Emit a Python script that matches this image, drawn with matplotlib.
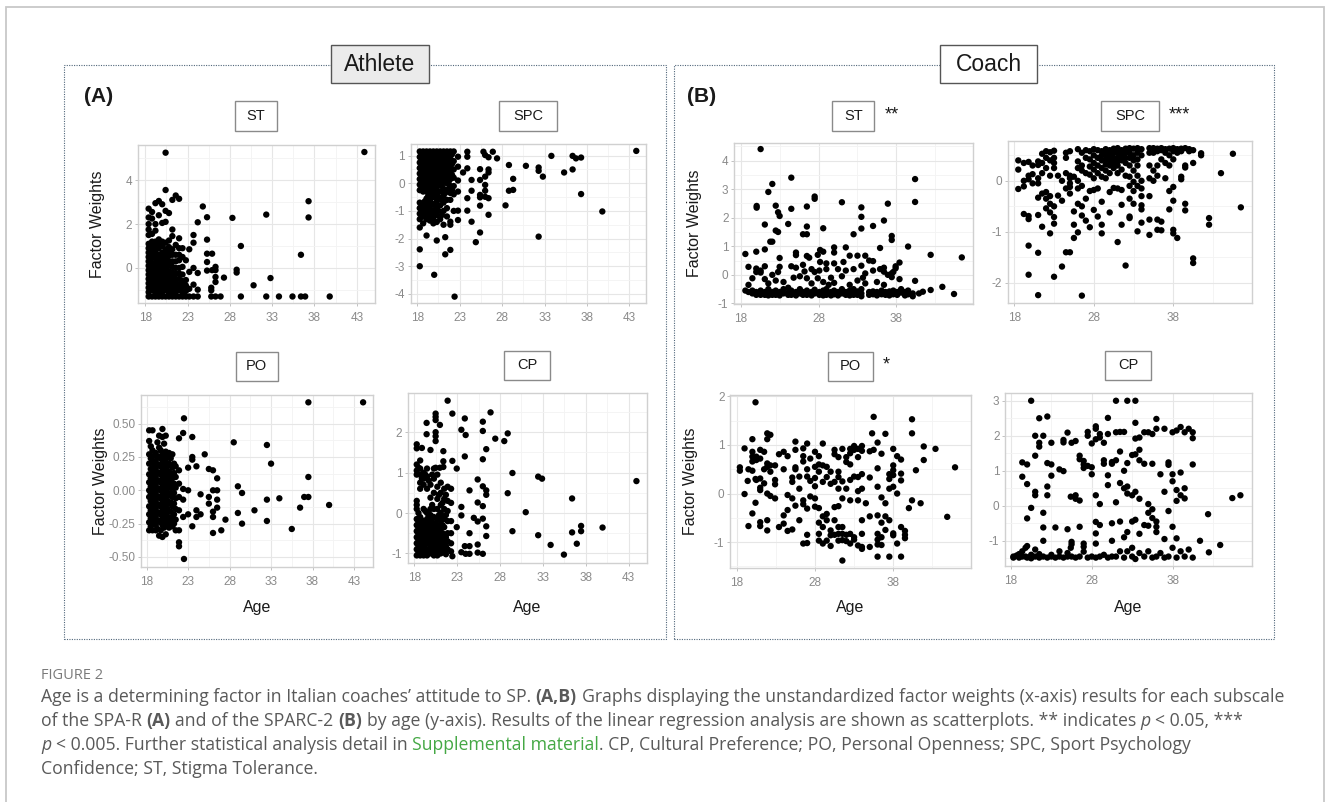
import numpy as np
import matplotlib.pyplot as plt
from matplotlib.patches import Rectangle

plt.rcParams['font.family'] = ['Liberation Sans', 'DejaVu Sans']
plt.rcParams['axes.unicode_minus'] = False

# ---- data: (age, [factor weights]) ----
ath_st = [
    (18.4, [-1.3, -1.1, -0.9, -0.7, -0.5, -0.3, -0.1, 0.1, 0.3, 0.5, 0.7, 0.9, 1.1, 1.5, 1.75, 2.0, 2.3, 2.7]),
    (18.8, [-1.3, -1.0, -0.8, -0.6, -0.4, -0.2, 0.0, 0.2, 0.45, 0.6, 0.85, 1.05, 1.2, 1.55, 2.25, 2.55]),
    (19.2, [-1.3, -1.15, -0.95, -0.75, -0.55, -0.35, -0.15, 0.05, 0.25, 0.5, 0.75, 1.0, 1.2, 1.7, 2.0, 2.95]),
    (19.6, [-1.3, -1.05, -0.85, -0.65, -0.45, -0.25, -0.05, 0.15, 0.35, 0.6, 0.9, 1.1, 1.3, 2.4, 3.05]),
    (20.0, [-1.3, -1.1, -0.9, -0.7, -0.5, -0.3, -0.1, 0.1, 0.3, 0.5, 0.7, 1.0, 1.2, 2.05, 2.9]),
    (20.4, [-1.3, -1.0, -0.8, -0.6, -0.4, -0.2, 0.0, 0.2, 0.4, 0.65, 0.85, 1.15, 2.1, 2.6, 3.55, 5.25]),
    (20.8, [-1.3, -1.15, -0.95, -0.75, -0.55, -0.35, -0.15, 0.1, 0.3, 0.55, 0.75, 0.95, 1.25, 2.5]),
    (21.2, [-1.3, -1.05, -0.85, -0.6, -0.4, -0.2, 0.05, 0.3, 0.6, 0.85, 1.45, 1.75, 3.1]),
    (21.6, [-1.3, -1.1, -0.9, -0.7, -0.5, -0.25, 0.0, 0.3, 0.6, 1.05, 3.3]),
    (22.0, [-1.3, -1.0, -0.75, -0.5, -0.25, 0.0, 0.35, 0.6, 0.9, 1.35, 3.15]),
    (22.4, [-1.3, -1.1, -0.85, -0.6, -0.3, 0.05, 0.5, 0.9]),
    (22.8, [-1.3, -1.05, -0.8, -0.55, 0.35]),
    (23.2, [-1.3, -0.95, -0.18, 0.85]),
    (23.7, [-1.3, -0.76, 0.0, 1.15, 1.5]),
    (24.2, [-1.3, -0.99, -0.23, 2.08]),
    (24.8, [2.8]),
    (25.3, [2.31, 1.29, 0.65, 0.27, -0.12]),
    (25.8, [-1.3, -1.02, -0.9]),
    (25.9, [0.65, -0.1]),
    (26.3, [-1.3, 0.05, -0.1, -0.41, -0.64]),
    (26.9, [-1.3]),
    (27.3, [-0.44]),
    (28.3, [2.28]),
    (28.8, [-0.08, -0.21]),
    (29.3, [1.0, -1.3]),
    (30.8, [-0.79]),
    (32.3, [2.43, -1.3]),
    (32.8, [-0.46]),
    (33.8, [-1.3]),
    (35.4, [-1.3]),
    (36.4, [0.6, -1.3]),
    (36.9, [-1.3]),
    (37.3, [3.04, 2.30]),
    (39.8, [-1.3]),
    (43.9, [5.28]),
]

ath_spc = [
    (18.3, [1.15, 0.95, 0.75, 0.55, 0.35, 0.15, -0.05, -0.25, -0.7, -0.9, -1.1, -1.3, -1.6, -2.39, -3.0]),
    (18.5, [1.05, 0.85, 0.65, 0.45, 0.25, 0.05, -0.15, -0.8, -1.0, -1.2]),
    (18.7, [1.15, 0.9, 0.7, 0.5, 0.3, 0.1, -0.1, -0.3, -0.75, -0.95, -1.2, -1.45]),
    (18.9, [1.05, 0.8, 0.6, 0.4, 0.2, 0.0, -0.2, -0.65, -0.85, -1.1]),
    (19.1, [1.15, 0.95, 0.75, 0.55, 0.35, 0.15, -0.05, -0.3, -0.55, -0.8, -1.05, -1.3, -1.89]),
    (19.3, [1.05, 0.85, 0.65, 0.45, 0.25, 0.05, -0.2, -0.45, -0.7, -0.95, -1.2]),
    (19.5, [1.15, 0.9, 0.7, 0.5, 0.3, 0.1, -0.1, -0.35, -0.6, -0.85, -1.1, -1.35]),
    (19.7, [1.05, 0.8, 0.6, 0.4, 0.2, 0.0, -0.25, -0.5, -0.75, -1.0]),
    (19.9, [1.15, 0.95, 0.75, 0.55, 0.35, 0.15, -0.05, -0.25, -0.5, -0.75, -1.0, -1.25, -1.45]),
    (20.0, [-3.31]),
    (20.1, [1.05, 0.85, 0.6, 0.4, 0.2, 0.0, -0.3, -0.8, -1.1]),
    (20.3, [1.15, 0.9, 0.7, 0.5, 0.3, 0.1, -0.15, -0.4, -0.65, -0.9, -1.15, -1.4, -2.07]),
    (20.5, [1.05, 0.8, 0.6, 0.4, 0.2, -0.05, -0.5, -1.0]),
    (20.7, [1.15, 0.95, 0.75, 0.55, 0.35, 0.15, -0.05, -0.3, -0.55, -0.8, -1.3]),
    (20.9, [1.05, 0.85, 0.6, 0.4, 0.2, -0.1, -0.6, -1.15]),
    (21.1, [1.15, 0.9, 0.7, 0.5, 0.3, 0.05, -0.2, -0.45, -0.7, -1.0, -1.5]),
    (21.3, [1.05, 0.8, 0.6, 0.4, 0.15, -0.35, -1.95, -2.57]),
    (21.5, [1.15, 0.95, 0.7, 0.45, 0.25, 0.0, -0.25, -0.6, -0.9, -1.2]),
    (21.7, [1.05, 0.8, 0.55, 0.3, 0.05, -0.2]),
    (21.9, [1.15, 0.9, 0.65, 0.4, 0.15, -0.1, -0.35, -0.6, -1.39, -1.5, -2.41]),
    (22.1, [1.05, 0.7, 0.3, -0.25]),
    (22.3, [1.15, 0.8, 0.5, 0.2, -0.1, -0.4, -1.0]),
    (22.4, [-4.1]),
    (22.8, [0.96, 0.6, 0.1, -0.3, -0.99, -1.33]),
    (23.4, [0.39]),
    (23.9, [1.14, 0.96, 0.54, -0.54, -0.99]),
    (24.4, [0.12, -0.27, -1.39]),
    (24.9, [-2.13]),
    (25.4, [0.51, 0.12, -0.42, -0.51, -0.81, -1.78]),
    (25.8, [1.14]),
    (26.0, [1.02, 0.24, -0.06, -0.27, -0.49]),
    (26.4, [0.94, 0.5, 0.39, -0.54, -1.14]),
    (26.9, [1.14]),
    (27.4, [0.9]),
    (28.4, [-0.8]),
    (28.8, [0.66, -0.27]),
    (29.3, [0.16, -0.24]),
    (30.8, [0.63]),
    (32.3, [0.57, 0.45, -1.93]),
    (32.8, [0.24]),
    (33.8, [0.99]),
    (35.3, [0.39]),
    (36.3, [0.99, 0.5]),
    (36.7, [0.9]),
    (37.3, [0.93, -0.39]),
    (39.8, [-1.02]),
    (43.8, [1.17]),
]

ath_po = [
    (18.3, [0.45, 0.37, 0.27, 0.2, 0.12, 0.06, 0.0, -0.05, -0.12, -0.18, -0.24, -0.3]),
    (18.5, [0.33, 0.24, 0.16, 0.09, 0.03, -0.02, -0.08, -0.15, -0.21, -0.27]),
    (18.7, [0.45, 0.3, 0.22, 0.15, 0.08, 0.02, -0.04, -0.1, -0.16, -0.22, -0.3]),
    (18.9, [0.26, 0.19, 0.12, 0.05, -0.01, -0.07, -0.13, -0.19, -0.25]),
    (19.1, [0.28, 0.22, 0.16, 0.1, 0.04, -0.02, -0.08, -0.14, -0.2, -0.26, -0.3]),
    (19.3, [0.36, 0.25, 0.19, 0.13, 0.07, 0.01, -0.05, -0.11, -0.17, -0.23, -0.29]),
    (19.5, [0.41, 0.32, 0.25, 0.19, 0.13, 0.07, 0.01, -0.05, -0.11, -0.17, -0.23, -0.34]),
    (19.7, [0.3, 0.24, 0.18, 0.12, 0.06, 0.0, -0.06, -0.12, -0.18, -0.24, -0.3]),
    (19.9, [0.46, 0.4, 0.28, 0.22, 0.16, 0.1, 0.04, -0.02, -0.08, -0.14, -0.2, -0.26, -0.35]),
    (20.1, [0.35, 0.26, 0.2, 0.14, 0.08, 0.02, -0.04, -0.1, -0.16, -0.22, -0.28]),
    (20.3, [0.41, 0.29, 0.23, 0.17, 0.11, 0.05, -0.01, -0.07, -0.13, -0.19, -0.25, -0.33]),
    (20.5, [0.26, 0.18, 0.12, 0.05, -0.02, -0.08, -0.14, -0.2, -0.26]),
    (20.7, [0.28, 0.2, 0.14, 0.08, 0.02, -0.04, -0.1, -0.16, -0.22, -0.28]),
    (20.9, [0.24, 0.12, 0.05, -0.02, -0.09, -0.16, -0.24]),
    (21.1, [0.27, 0.17, 0.09, 0.02, -0.05, -0.12, -0.2, -0.27]),
    (21.3, [0.2, 0.13, 0.05, -0.02, -0.1, -0.18, -0.25]),
    (21.5, [0.18, 0.1, 0.02, -0.06, -0.14, -0.22, -0.3]),
    (21.9, [0.39, 0.15, 0.05, -0.05, -0.15, -0.3, -0.39, -0.42]),
    (22.4, [0.43, 0.01, -0.07, -0.2]),
    (22.5, [0.54, -0.515]),
    (23.0, [0.17, 0.0, -0.18]),
    (23.5, [0.40, 0.25, 0.23, -0.27]),
    (24.0, [0.18, -0.15, -0.2]),
    (24.5, [-0.03, -0.18]),
    (25.0, [0.27]),
    (25.5, [0.16, -0.05, -0.10]),
    (26.0, [0.15, 0.0, -0.16, -0.2, -0.32]),
    (26.5, [0.09, 0.0, -0.07, -0.13]),
    (27.0, [-0.30]),
    (27.5, [-0.22]),
    (28.5, [0.36]),
    (29.0, [0.03, -0.17]),
    (29.5, [-0.02, -0.25]),
    (31.0, [-0.15]),
    (32.5, [0.34, -0.07, -0.23]),
    (33.0, [0.20]),
    (34.0, [-0.06]),
    (35.5, [-0.29]),
    (36.5, [-0.13]),
    (37.0, [-0.05]),
    (37.5, [0.66, 0.10, -0.05]),
    (40.0, [-0.11]),
    (44.1, [0.66]),
]

ath_cp = [
    (18.3, [1.7, 1.6, 1.2, 1.05, 0.95, 0.3, 0.2, 0.1, -0.15, -0.3, -0.45, -0.6, -0.75, -0.9, -1.05]),
    (18.5, [1.12, 0.0, -0.22, -0.38, -0.52, -0.68, -0.82, -0.98]),
    (18.7, [1.3, 1.1, 0.95, 0.75, 0.6, -0.1, -0.25, -0.4, -0.55, -0.7, -0.85, -1.0, -1.05]),
    (18.9, [1.61, 0.85, -0.18, -0.32, -0.48, -0.62, -0.78, -0.92]),
    (19.1, [1.0, 0.85, 0.7, 0.1, -0.2, -0.35, -0.5, -0.65, -0.8, -0.95, -1.05]),
    (19.3, [0.95, 0.05, -0.25, -0.42, -0.58, -0.72, -0.88, -1.0]),
    (19.45, [2.23, 1.95]),
    (19.5, [1.1, 0.9, 0.6, 0.0, -0.15, -0.3, -0.45, -0.6, -0.75, -0.9, -1.05]),
    (19.7, [0.8, -0.1, -0.28, -0.5, -0.7, -0.95]),
    (19.9, [1.56, 0.7, 0.38, 0.1, -0.05, -0.2, -0.4, -0.6, -0.8, -1.0]),
    (20.1, [0.95, 0.2, -0.3, -0.5, -0.72, -0.92]),
    (20.3, [1.1, 0.85, 0.5, 0.1, -0.1, -0.25, -0.45, -0.65, -0.85, -1.05]),
    (20.5, [2.46, 2.38, 2.30, 2.0, 1.9, 1.78, 1.12, -0.35, -0.55, -0.78, -0.98]),
    (20.7, [0.95, 0.65, 0.35, 0.1, -0.15, -0.3, -0.5, -0.7, -0.9, -1.05]),
    (20.9, [0.45, -0.05, -0.4, -0.6, -0.82, -1.0]),
    (21.0, [2.18, 1.12]),
    (21.1, [0.75, 0.5, 0.2, 0.0, -0.2, -0.4, -0.6, -0.8, -1.0]),
    (21.3, [0.25, -0.1, -0.3, -0.5, -0.7, -0.9]),
    (21.4, [1.53, 1.28, 1.14]),
    (21.5, [0.6, 0.35, 0.1, -0.15, -0.35, -0.55, -0.75, -0.95]),
    (21.7, [0.45, -0.05, -0.6, -0.82, -1.02]),
    (21.9, [2.78, 0.65, 0.3, 0.05, -0.2, -0.5, -0.7, -0.9]),
    (22.3, [0.6, 0.25, -0.2, -0.5, -0.75, -0.95]),
    (22.45, [2.46, 1.29, -1.07]),
    (22.96, [1.10, -0.35]),
    (23.5, [2.06, 0.15, -0.06, -0.97]),
    (23.9, [2.34, 1.40, -0.82]),
    (24.0, [1.93, -1.01]),
    (24.45, [0.56, -0.5, -0.82, -1.01]),
    (24.95, [-0.12]),
    (25.4, [0.83, 0.26, -0.21, -0.78, -0.98]),
    (26.0, [2.26, 2.03, 1.33, 0.66, 0.17, -0.14, -1.01]),
    (26.4, [1.58, 0.56, 0.45, -0.33, -0.57]),
    (26.9, [2.49]),
    (27.45, [1.84]),
    (28.5, [1.78]),
    (28.9, [1.97, 0.49]),
    (29.45, [0.99, -0.45]),
    (31.0, [0.02]),
    (32.45, [0.9, -0.55]),
    (32.9, [0.85]),
    (33.9, [-0.79]),
    (35.45, [-1.03]),
    (36.4, [0.36, -0.48]),
    (36.95, [-0.76]),
    (37.45, [-0.32, -0.45]),
    (39.95, [-0.36]),
    (43.9, [0.79]),
]

coach_st = [
    (18.6, [-0.55, 0.73]),
    (19.0, [0.28, -0.35, -0.6]),
    (19.5, [-0.12, -0.55, -0.65]),
    (20.0, [0.81, 0.22, 0.1, -0.6, -0.7]),
    (20.05, [2.41, 2.35]),
    (20.56, [4.40, 0.15, 0.08, -0.55, -0.7]),
    (21.1, [1.76, 0.89, 0.3, -0.15, -0.6, -0.7]),
    (21.55, [2.90, -0.3, -0.5, -0.65, -0.72]),
    (21.8, [1.16]),
    (22.06, [3.18, 1.16, 0.0, -0.6, -0.7]),
    (22.5, [1.55, 2.42, -0.2, -0.55, -0.7]),
    (22.8, [2.19, 1.5, 0.1]),
    (23.0, [2.06, 0.59, 0.28, -0.6, -0.72]),
    (23.5, [-0.25, -0.5, -0.65]),
    (24.1, [1.78, -0.45, -0.62, -0.7]),
    (24.5, [3.40, 2.31, 0.3, -0.55, -0.7]),
    (24.8, [-0.1]),
    (25.1, [0.78, 0.69, 0.25, -0.6, -0.72]),
    (25.6, [-0.05, -0.5, -0.65]),
    (26.0, [1.42, 0.35, -0.6, -0.7]),
    (26.2, [0.12]),
    (26.5, [2.39, 1.69, 1.42, 0.66, -0.12, -0.55, -0.7]),
    (26.8, [0.6]),
    (27.1, [0.2, -0.3, -0.6, -0.72]),
    (27.5, [2.74, 2.66, 0.1, -0.52, -0.65]),
    (27.9, [-0.12, 0.7]),
    (28.1, [0.15, -0.6, -0.7]),
    (28.2, [0.45, 0.87]),
    (28.6, [1.63, 0.81, -0.25, -0.55, -0.72]),
    (29.0, [0.2, 0.4, -0.5, -0.62, -0.7]),
    (29.3, [-0.35]),
    (29.6, [-0.1, -0.6, -0.72]),
    (30.0, [0.96, 0.78, 0.4, -0.28, -0.55, -0.68]),
    (30.5, [0.2, -0.6, -0.72]),
    (31.0, [2.54, -0.05, -0.5, -0.65]),
    (31.2, [0.45]),
    (31.5, [0.96, 0.15, -0.6, -0.7]),
    (32.0, [0.67, -0.35, -0.55, -0.72]),
    (32.5, [1.42, 0.2, -0.5, -0.62, -0.7]),
    (33.0, [0.67, -0.2, -0.58, -0.7]),
    (33.5, [2.36, 2.03, 1.62, 0.32, -0.5, -0.65, -0.75]),
    (33.7, [-0.1]),
    (34.0, [0.67, 0.05, -0.3]),
    (34.5, [0.5, -0.6, -0.7]),
    (35.0, [1.71, 0.48, 0.15, -0.58, -0.68]),
    (35.5, [-0.25, -0.6, -0.72]),
    (35.9, [0.94, 0.2]),
    (36.1, [-0.55, -0.68]),
    (36.4, [1.9, 0.25, 0.11, -0.35]),
    (36.6, [-0.6, -0.7]),
    (36.9, [2.49, 0.0]),
    (37.1, [-0.58, -0.72]),
    (37.4, [1.36, 1.22, 0.05, -0.08]),
    (37.6, [0.1, -0.55, -0.68]),
    (37.9, [0.23, 0.3]),
    (38.1, [-0.6, -0.7]),
    (38.4, [0.43, -0.15]),
    (38.6, [-0.5, -0.62]),
    (39.1, [-0.6, -0.72]),
    (39.5, [0.99, -0.55, -0.68]),
    (40.1, [-0.65, -0.75]),
    (40.4, [3.35, 2.55, -0.21]),
    (40.9, [-0.65]),
    (41.4, [-0.59]),
    (42.4, [0.70, -0.53]),
    (43.9, [-0.42]),
    (45.4, [-0.67]),
    (46.4, [0.61]),
]

coach_spc = [
    (18.5, [0.40, 0.22, -0.16]),
    (19.2, [-0.11, 0.0, 0.35, -0.65]),
    (19.8, [0.37, 0.1, 0.03, -0.69, -0.75, -1.27, -1.84]),
    (20.3, [0.30, 0.13, -0.05]),
    (21.0, [0.38, 0.31, 0.05, -0.05, -0.33, -0.67, -1.41, -2.24]),
    (21.5, [0.53, 0.35, 0.15, -0.25, -0.9]),
    (22.0, [0.58, 0.45, 0.25, -0.22, -0.54, -0.35]),
    (22.5, [0.56, 0.4, 0.1, -0.3, -0.62, -1.03, -0.45]),
    (23.0, [0.59, 0.45, 0.35, 0.25, -0.5, -0.71, -0.84, -1.88]),
    (23.5, [-0.29, 0.1]),
    (24.0, [0.0, -0.39, -1.68]),
    (24.5, [0.45, 0.55, -0.15, -1.4, 0.15]),
    (25.0, [0.58, 0.1, -0.05, -0.12, -0.25, -1.4, 0.05]),
    (25.5, [-0.86, -1.12, 0.08, -0.6]),
    (26.0, [0.62, 0.38, 0.25, 0.0, -0.15, -0.45, -1.01]),
    (26.5, [0.55, 0.3, 0.2, -0.1, -0.5, -0.68, -2.25]),
    (27.0, [0.6, 0.45, 0.15, -0.35, -0.78]),
    (27.5, [0.58, 0.42, 0.28, 0.12, -0.2, -0.91]),
    (28.0, [0.62, 0.5, 0.35, 0.22, 0.05, -0.18, -0.57]),
    (28.5, [0.6, 0.45, 0.3, 0.15, -0.15, -0.7]),
    (29.0, [0.58, 0.5, 0.4, 0.25, 0.08, -0.41, -0.86, -1.03]),
    (29.5, [0.62, 0.52, 0.42, 0.32, 0.2, 0.05]),
    (30.0, [0.6, 0.5, 0.4, 0.3, 0.15, -0.22, -0.62]),
    (30.5, [0.63, 0.55, 0.45, 0.35, 0.25, -0.14]),
    (31.0, [0.64, 0.55, 0.45, 0.38, 0.3, 0.15, -0.15, -1.2]),
    (31.5, [0.6, 0.5, 0.4, 0.22, -0.18, -0.47, -0.86]),
    (32.0, [0.63, 0.55, 0.45, 0.35, 0.1, -1.66]),
    (32.5, [0.64, 0.55, 0.45, 0.3, 0.08, -0.1, -0.35, -0.7, -0.73]),
    (33.0, [0.63, 0.5, 0.4, 0.2, -0.02, -0.2, -0.45]),
    (33.5, [0.64, 0.55, 0.42, 0.3, 0.1, -0.1, -0.99]),
    (34.0, [0.62, 0.5, 0.0, -0.15, -0.3, -0.48, -0.56, -0.82]),
    (35.0, [0.64, 0.55, 0.3, 0.05, -0.3, -0.76, -1.06]),
    (35.5, [0.64, 0.55, 0.2, 0.0]),
    (36.0, [0.63, 0.58, 0.3, 0.1, -0.76, -0.96]),
    (36.5, [0.64, 0.6, 0.42, -0.80, -0.97]),
    (37.0, [0.62, 0.55, 0.35, 0.05]),
    (37.5, [0.63, 0.5, 0.3, -0.2, -0.56]),
    (38.0, [0.64, 0.58, 0.42, -0.12, -0.39, -0.96, -1.03]),
    (38.5, [0.62, 0.55, -1.12]),
    (39.0, [0.63, 0.58, 0.08, 0.03]),
    (39.5, [0.64, 0.3, 0.26, -0.45, -0.58]),
    (40.0, [0.62, 0.58]),
    (40.5, [0.6, 0.35, -1.52, -1.61]),
    (41.5, [0.54, 0.5]),
    (42.5, [-0.73, -0.86]),
    (44.0, [0.15]),
    (45.5, [0.53]),
    (46.5, [-0.52]),
]

coach_po = [
    (18.4, [0.54, 0.47]),
    (19.0, [0.93, -0.01]),
    (19.4, [0.26]),
    (19.5, [0.5, -0.67]),
    (20.0, [1.12, 0.86, 0.76, 0.66, 0.47, -0.41]),
    (20.4, [1.88, 0.3, -0.19]),
    (20.5, [0.76, 0.69, 0.28]),
    (21.0, [0.9, 0.72, 0.31, 0.07, 0.12, -0.59, -0.67]),
    (21.5, [0.86, 0.5, 0.21]),
    (21.9, [1.24, 1.12, 0.55, 0.62, 0.0, -0.55, -0.76]),
    (22.3, [1.21, 0.45, 0.58, -0.05]),
    (22.9, [0.58, 0.19, 0.28, -0.1]),
    (23.4, [0.81, -0.69]),
    (24.0, [0.86, 0.5, -0.62, -0.45]),
    (24.5, [0.77, -0.03, -0.34, -0.77]),
    (25.1, [0.33, 0.24, -0.1, -0.74]),
    (25.5, [1.07, 0.9, 0.54, 0.5, -0.25]),
    (26.0, [0.35, 0.1, -0.55]),
    (26.5, [0.93, 0.77, 0.66, -0.14, -0.22, -1.03]),
    (27.0, [1.03, 0.5, 0.35, -0.31, -0.85, -1.02]),
    (27.4, [0.72, 0.26, -0.06]),
    (28.0, [0.86, 0.55, 0.32, 0.15, -0.1, -0.27]),
    (28.5, [0.77, 0.6, 0.45, -0.3, -0.6, -0.83, -0.97]),
    (29.0, [1.03, 0.58, 0.24, -0.47, -0.69, -1.03]),
    (29.5, [0.34, 0.55, -0.42, -0.55, -0.97]),
    (30.0, [0.45, 0.2, -0.76, -0.86, -1.08]),
    (30.5, [0.81, 0.9, 0.24, -0.28, -0.55, -0.85]),
    (31.0, [0.75, 0.34, 0.45, 0.1, -0.26, -0.69, -0.83, -0.97]),
    (31.5, [0.92, 0.25, -0.1, -0.69, -0.83, -0.96, -1.38]),
    (32.0, [0.75, 0.65, 0.1, -0.85, -0.98]),
    (32.5, [0.83, 0.92, 0.6, 0.28, -0.14, -0.83, -1.03]),
    (33.0, [0.98, 0.9, 0.35, -0.9, -0.95]),
    (33.5, [0.92, 0.75, 0.34, 0.05, -0.14, -1.07]),
    (34.0, [0.98, 0.88, 0.4, 0.1, -0.55, -0.83, -1.1, -1.14]),
    (34.5, [-0.2]),
    (35.0, [0.87, 0.33, -0.47, -1.1]),
    (35.3, [1.24]),
    (35.5, [1.58, 0.9]),
    (36.0, [1.05, 0.52, 0.14, -0.45, -0.83, -0.95, -1.05, -1.3]),
    (36.5, [0.82, -0.08, -0.6, -0.9, -1.06]),
    (37.0, [1.23, -0.2, -0.47, -0.75]),
    (37.5, [0.4, 0.3, 0.1, -0.55, -1.3]),
    (38.0, [0.92, 0.58, 0.48, 0.38, 0.14, -0.82, -0.86]),
    (38.5, [0.77, 0.0, -1.03]),
    (39.0, [0.7, 0.41, 0.27, -0.69, -1.3]),
    (39.5, [-0.77, -0.85, -0.92]),
    (40.0, [-0.3]),
    (40.4, [1.53, 1.24, -0.14]),
    (40.9, [0.48]),
    (41.5, [-0.2]),
    (41.9, [0.97, 0.69]),
    (43.4, [0.92]),
    (44.9, [-0.48]),
    (45.9, [0.54]),
]

coach_cp = [
    (18.3, [-1.48, -1.45]),
    (18.7, [-1.42]),
    (19.0, [-1.48, -1.38]),
    (19.4, [1.24, 0.83, -1.3, -1.45]),
    (19.8, [-1.2, -1.45]),
    (20.0, [1.18, 0.62, -0.36, -1.15, -1.48]),
    (20.5, [3.0, -0.06, -1.4, -1.5]),
    (21.0, [2.0, 1.43, 0.4, 0.3, -1.25, -1.45]),
    (21.5, [2.5, 1.8, 1.69, -1.38, -1.48]),
    (22.0, [2.0, -0.2, -0.62, -1.0, -1.45]),
    (22.5, [2.55, 1.22, 0.55, 0.3, -1.48]),
    (23.0, [1.8, 1.18, 0.86, -1.4, -1.45]),
    (23.5, [-0.62, -1.48]),
    (24.0, [1.04, -1.3, -1.45]),
    (24.5, [1.88, 1.81, 0.99, -1.48]),
    (25.0, [2.09, -0.67, -1.35, -1.45]),
    (25.4, [0.26, -1.2]),
    (25.5, [1.8, -1.03, -1.1, -1.45]),
    (26.0, [1.85, 0.3, 0.2, -1.48]),
    (26.5, [1.33, 1.43, 0.15, -0.6, -1.45]),
    (27.0, [1.28, 1.18, 1.08, -1.08, -1.17, -1.31]),
    (27.5, [2.11, 2.0, 1.14, -1.48]),
    (28.0, [1.78, 1.1, 0.9, -1.45]),
    (28.5, [2.27, 2.2, 1.9, 0.3, -0.46, -0.79, -1.08, -1.48]),
    (29.0, [2.05, 1.95, 0.05, -0.55, -1.45]),
    (29.5, [1.8, 1.2, 1.3, -1.4]),
    (30.0, [2.51, 2.05, 0.59, 0.87, -1.48]),
    (30.5, [1.25, 1.2, -0.5, -1.0, -1.45]),
    (31.0, [3.0, 2.1, 1.3, 0.1, -1.45]),
    (31.5, [2.11, 1.55, 0.65, -0.45, -1.3]),
    (32.0, [2.11, 1.0, 0.5, -0.9, -1.48]),
    (32.4, [3.0, 1.22, 0.55, 0.35, -0.75, -1.3]),
    (33.0, [1.45, 0.3, -0.45, -1.2, -1.45]),
    (33.4, [3.0, 2.37, 1.92, 1.47, 0.4, -0.4, -1.52]),
    (33.9, [1.95, 1.6, 1.3, 0.2, -0.8, -1.35]),
    (34.5, [2.1, 1.2, -0.55, -1.45]),
    (35.0, [2.1, 0.05, -0.2, -0.57, -1.3]),
    (35.5, [2.05, 1.2, -0.1, -0.35, -1.48]),
    (36.0, [2.48, 2.2, -0.45, -0.6, -0.75, -1.45]),
    (36.5, [0.9, -1.35]),
    (37.0, [2.2, 0.4, -0.95, -1.48]),
    (37.5, [1.24, 1.17, -0.15, -1.45]),
    (38.0, [2.1, 0.9, 0.7, -0.6, -1.2]),
    (38.5, [2.15, 0.45, 0.14, -0.93, -1.48]),
    (39.0, [2.25, 0.95, 0.3, -1.3]),
    (39.5, [2.1, 0.5, 0.21, -1.45]),
    (40.0, [2.2, -1.25]),
    (40.5, [2.1, 1.93, 1.18, -1.48]),
    (41.4, [-1.0]),
    (42.4, [-0.24]),
    (42.5, [-1.33]),
    (43.9, [-1.12]),
    (45.4, [0.22]),
    (46.4, [0.3]),
]

ath_xticks = [18, 23, 28, 33, 38, 43]
coach_xticks = [18, 28, 38]

W, H = 1330, 802
fig = plt.figure(figsize=(W / 100, H / 100), dpi=100)


def fx(x):
    return x / W


def fy(y):
    return 1 - y / H


def rect(x0, y0, x1, y1, **kw):
    r = Rectangle((fx(x0), fy(y1)), (x1 - x0) / W, (y1 - y0) / H,
                  transform=fig.transFigure, **kw)
    fig.add_artist(r)
    return r


def flat(cols):
    ages, ws = [], []
    for a, vals in cols:
        for v in vals:
            ages.append(a)
            ws.append(v)
    return ages, ws


# outer page frame and the two dotted group boxes
rect(6, 7, 1324, 860, fill=False, ec='#c8c8c8', lw=1.3)
rect(64, 64.5, 666, 639, fill=False, ec='#50667a', lw=0.8, ls=(0, (1, 1.2)))
rect(674, 64.5, 1274, 639, fill=False, ec='#50667a', lw=0.8, ls=(0, (1, 1.2)))

rect(331, 45, 429, 83, fc='#ebebeb', ec='#555555', lw=1, zorder=5)
fig.text(fx(380), fy(64.5), 'Athlete', ha='center', va='center', fontsize=16.5, color='#1a1a1a', zorder=6)
rect(940, 45, 1037, 83, fc='white', ec='#555555', lw=1, zorder=5)
fig.text(fx(988.5), fy(64.5), 'Coach', ha='center', va='center', fontsize=16.5, color='#1a1a1a', zorder=6)

fig.text(fx(84), fy(96), '(A)', ha='left', va='center', fontsize=15, fontweight='bold', color='#1a1a1a')
fig.text(fx(687), fy(96), '(B)', ha='left', va='center', fontsize=15, fontweight='bold', color='#1a1a1a')

# name, data, (l, t, r, b), xlim, ylim, xticks, yticks, strip width, strip top, stars
panels = [
    ('ST', ath_st, (137.5, 145, 374.8, 303.3), (17.08, 45.13), (-1.61, 5.6), ath_xticks, [0, 2, 4], 42, 101.5, ''),
    ('SPC', ath_spc, (410.6, 144, 646.3, 303), (17.22, 44.98), (-4.33, 1.42), ath_xticks, [-4, -3, -2, -1, 0, 1], 58, 101.5, ''),
    ('PO', ath_po, (140.7, 395, 372.8, 566.7), (17.28, 45.27), (-0.573, 0.715), ath_xticks, [-0.5, -0.25, 0, 0.25, 0.5], 42, 351.5, ''),
    ('CP', ath_cp, (407.9, 393, 647, 562.7), (17.27, 45.13), (-1.23, 2.97), ath_xticks, [-1, 0, 1, 2], 46, 350.5, ''),
    ('ST', coach_st, (734, 142.5, 972.7, 304), (17.14, 47.8), (-1.02, 4.63), coach_xticks, [-1, 0, 1, 2, 3, 4], 42, 101.5, '**'),
    ('SPC', coach_spc, (1007.7, 141, 1252.3, 303.3), (17.17, 47.94), (-2.4, 0.78), coach_xticks, [-2, -1, 0], 58, 101.5, '***'),
    ('PO', coach_po, (730, 395, 970.7, 568.3), (17.14, 47.9), (-1.54, 2.03), coach_xticks, [-1, 0, 1, 2], 45, 351.5, '*'),
    ('CP', coach_cp, (1005, 392.7, 1251.7, 566), (17.26, 47.8), (-1.72, 3.23), coach_xticks, [-1, 0, 1, 2, 3], 46, 350.5, ''),
]

for i, (name, data, box, xl, yl, xt, yt, sw, stop, stars) in enumerate(panels):
    l, t, r, b = box
    ax = fig.add_axes([fx(l), fy(b), (r - l) / W, (b - t) / H])
    ages, ws = flat(data)
    ax.scatter(ages, ws, s=21, c='black', edgecolors='none', zorder=3)
    ax.set_xticks(xt)
    ax.set_yticks(yt)
    dx = xt[1] - xt[0]
    ax.set_xticks([v + dx / 2 for v in [xt[0] - dx] + xt], minor=True)
    dy = yt[1] - yt[0]
    ax.set_yticks([v + dy / 2 for v in [yt[0] - dy] + yt], minor=True)
    # limits last, so the minor ticks outside the panel do not widen it
    ax.set_xlim(*xl)
    ax.set_ylim(*yl)
    if name == 'PO' and i == 2:
        ax.set_yticklabels(['%.2f' % v for v in yt])
    ax.grid(which='major', color='#e6e6e6', lw=0.8)
    ax.grid(which='minor', color='#f3f3f3', lw=0.6)
    ax.set_axisbelow(True)
    for sp in ax.spines.values():
        sp.set_color('#d0d0d0')
        sp.set_linewidth(1.0)
    ax.tick_params(which='major', length=2.5, width=0.6, color='#b8b8b8', labelcolor='#8a8a8a', labelsize=8.5)
    ax.tick_params(axis='x', which='major', pad=4)
    ax.tick_params(axis='y', which='major', pad=1.5)
    ax.tick_params(which='minor', length=0)

    cx = (l + r) / 2
    rect(cx - sw / 2, stop, cx + sw / 2, stop + 29, fc='white', ec='#8a8a8a', lw=1)
    fig.text(fx(cx), fy(stop + 14.5), name, ha='center', va='center', fontsize=10.5, color='#1a1a1a')
    if stars:
        fig.text(fx(cx + sw / 2 + 10), fy(stop + 18), stars, ha='left', va='baseline', fontsize=13, color='#1a1a1a')

    if i in (0, 2, 4, 6):
        fig.text(fx(l - 40), fy((t + b) / 2), 'Factor Weights', rotation=90, ha='center', va='center',
                 fontsize=11.5, color='#1a1a1a')
    if i in (2, 3, 6, 7):
        fig.text(fx(cx), fy(607.5), 'Age', ha='center', va='center', fontsize=11.5, color='#1a1a1a')

# ---- caption ----
cap = dict(fontsize=12.7, color='#595959', family=['Open Sans', 'DejaVu Sans'])
bold = dict(fontweight='bold')
ital = dict(style='italic')
green = dict(color='#45a845')

fig.text(fx(41), fy(679), 'FIGURE 2', ha='left', va='baseline', fontsize=10.5, color='#7a7a7a',
         family=['Open Sans', 'DejaVu Sans'])

cap_lines = [
    [('Age is a determining factor in Italian coaches\u2019 attitude to SP. ', {}), ('(A,B)', bold),
     (' Graphs displaying the unstandardized factor weights (x-axis) results for each subscale', {})],
    [('of the SPA-R ', {}), ('(A)', bold), (' and of the SPARC-2 ', {}), ('(B)', bold),
     (' by age (y-axis). Results of the linear regression analysis are shown as scatterplots. ** indicates ', {}),
     ('p', ital), (' < 0.05, ***', {})],
    [('p', ital), (' < 0.005. Further statistical analysis detail in ', {}), ('Supplemental material', green),
     ('. CP, Cultural Preference; PO, Personal Openness; SPC, Sport Psychology', {})],
    [('Confidence; ST, Stigma Tolerance.', {})],
]
cap_base = [702, 726, 750, 774]

rend = fig.canvas.get_renderer()
t1 = fig.text(0, 0, 'a a', **cap)
t2 = fig.text(0, 0, 'aa', **cap)
space_w = t1.get_window_extent(rend).width - t2.get_window_extent(rend).width
t1.remove()
t2.remove()

for runs, yb in zip(cap_lines, cap_base):
    x = 41.0
    for s, kw in runs:
        lead = len(s) - len(s.lstrip(' '))
        trail = len(s) - len(s.rstrip(' '))
        core = s.strip(' ')
        x += lead * space_w
        props = dict(cap)
        props.update(kw)
        t = fig.text(fx(x), fy(yb), core, ha='left', va='baseline', **props)
        x += t.get_window_extent(rend).width + trail * space_w

fig.savefig('out.png', dpi=100)
